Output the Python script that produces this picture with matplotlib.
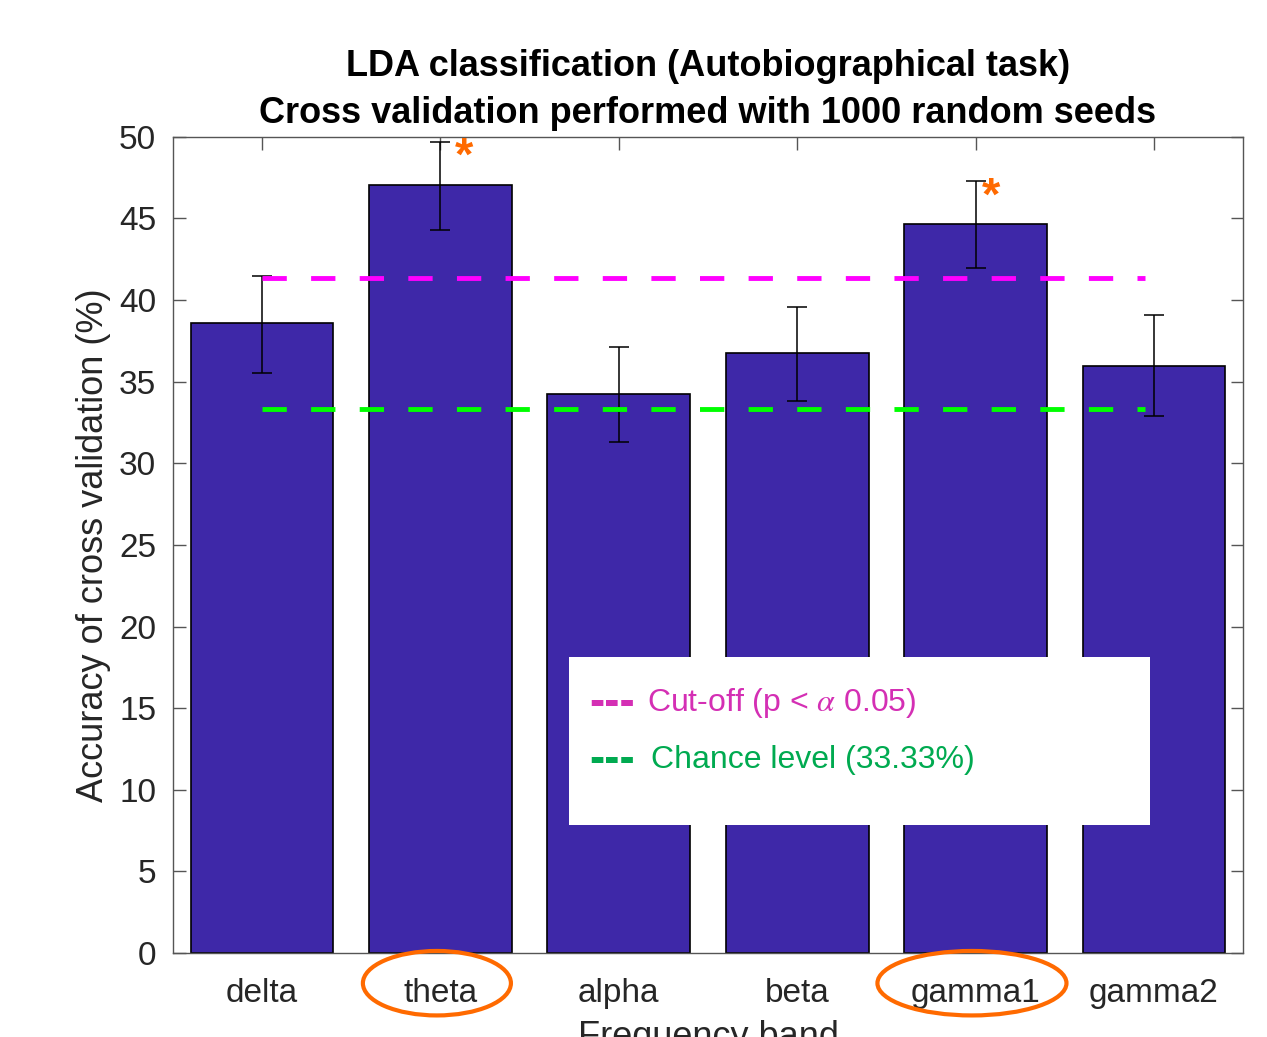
import matplotlib.pyplot as plt
import numpy as np
from matplotlib.patches import Ellipse, Rectangle
import matplotlib.transforms as mtransforms

plt.rcParams['font.family'] = ['Liberation Sans', 'DejaVu Sans']
plt.rcParams['mathtext.fontset'] = 'stix'

# Données
bands = ['delta', 'theta', 'alpha', 'beta', 'gamma1', 'gamma2']
accuracy = [38.6, 47.05, 34.25, 36.75, 44.65, 35.95]
err_low = [35.55, 44.3, 31.3, 33.8, 41.95, 32.9]
err_high = [41.5, 49.7, 37.1, 39.6, 47.3, 39.1]
cutoff = 41.36
chance = 33.33
significant = ['theta', 'gamma1']

x = np.arange(1, len(bands) + 1)
yerr = [np.array(accuracy) - np.array(err_low), np.array(err_high) - np.array(accuracy)]

fig = plt.figure(figsize=(12.67, 10.37), dpi=100)
ax = fig.add_axes([0.1365, 0.081, 0.8446, 0.787])

ax.bar(x, accuracy, width=0.8, color='#3E28A8', edgecolor='black', linewidth=1.2, zorder=2)
ax.errorbar(x, accuracy, yerr=yerr, fmt='none', ecolor='black', elinewidth=1.1,
            capsize=7, capthick=1.1, zorder=3)

# lignes seuil
ax.plot([x[0], x[-1] - 0.05], [cutoff, cutoff], color='#FF00FF', lw=3.5,
        dashes=(5, 5), zorder=4)
ax.plot([x[0], x[-1] - 0.05], [chance, chance], color='#00FF00', lw=3.5,
        dashes=(5, 5), zorder=4)

# étoiles
star_dx = {'theta': 0.13, 'gamma1': 0.085}
for b in significant:
    i = bands.index(b)
    ax.text(x[i] + star_dx[b], err_high[i] - 1.0, '*', color='#FF6A00', fontsize=34,
            fontweight='bold', ha='center', va='center', zorder=5)

ax.set_xlim(0.5, 6.5)
ax.set_ylim(0, 50)
ax.set_xticks(x)
ax.set_xticklabels(bands)
ax.set_yticks(np.arange(0, 51, 5))
ax.tick_params(direction='in', length=9, width=1, colors='#555555', top=True, right=True,
               labelsize=24, labelcolor='#262626')
ax.tick_params(axis='x', pad=18)
ax.tick_params(axis='y', pad=12)
for s in ax.spines.values():
    s.set_color('#555555')
    s.set_linewidth(1)

ax.set_ylabel('Accuracy of cross validation (%)', fontsize=26, color='#262626', labelpad=6)
ax.set_xlabel('Frequency band', fontsize=26, color='#262626', labelpad=8)
ax.set_title('LDA classification (Autobiographical task)\nCross validation performed with 1000 random seeds',
             fontsize=26, fontweight='bold', pad=10, linespacing=1.45)

# boîte de légende
ax.add_patch(Rectangle((0.370, 0.157), 0.543, 0.206, transform=ax.transAxes,
                       facecolor='white', edgecolor='none', zorder=6))
ax.text(0.389, 0.306, '---', transform=ax.transAxes, color='#D42FB4', fontsize=33,
        fontweight='bold', va='center', zorder=7)
ax.text(0.443, 0.306, 'Cut-off (p < $\\alpha$ 0.05)', transform=ax.transAxes,
        color='#D42FB4', fontsize=23, va='center', zorder=7)
ax.text(0.389, 0.236, '---', transform=ax.transAxes, color='#00AA50', fontsize=33,
        fontweight='bold', va='center', zorder=7)
ax.text(0.447, 0.236, 'Chance level (33.33%)', transform=ax.transAxes,
        color='#00AA50', fontsize=23, va='center', zorder=7)

# ellipses autour des bandes significatives
trans = mtransforms.blended_transform_factory(ax.transData, ax.transAxes)
widths = {'theta': 0.83, 'gamma1': 1.06}
for b in significant:
    i = bands.index(b)
    ax.add_patch(Ellipse((x[i] - 0.02, -0.037), widths[b], 0.079, transform=trans,
                         facecolor='none', edgecolor='#FF6A00', lw=3, clip_on=False, zorder=8))

plt.savefig('out.png', dpi=100)
